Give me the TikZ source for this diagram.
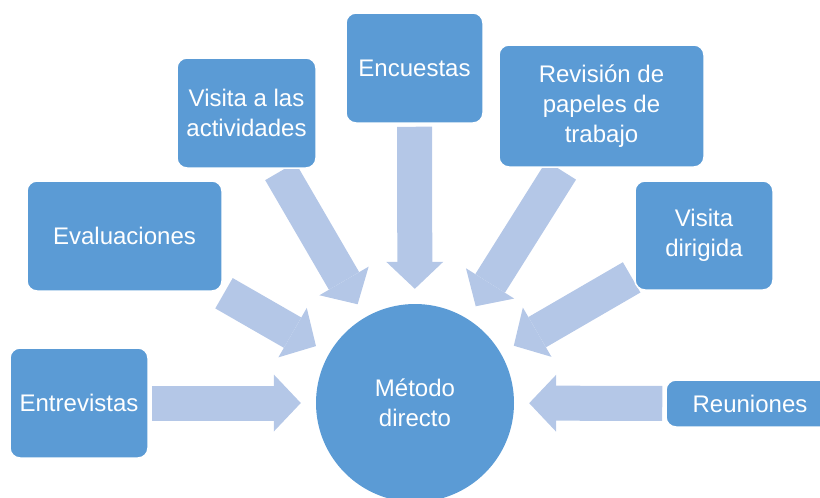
\documentclass[tikz,border=0pt]{standalone}
\usepackage{fontspec}
\setmainfont{Liberation Sans}
\usepackage{tikz}
\usetikzlibrary{arrows.meta,backgrounds}
\usepackage{xcolor}
\definecolor{cajaazul}{HTML}{5B9BD5}
\definecolor{flechaazul}{HTML}{B4C7E7}
\newcommand{\prcaja}[5]{\node[caja,minimum width=#3,minimum height=#4] (#1) at (#2) {#5};}
\newcommand{\prflecha}[1]{\begin{pgfonlayer}{background}\draw[flecha] (#1) -- (centro);\end{pgfonlayer}}

\begin{document}
\begin{tikzpicture}[x=1pt,y=-1pt,
    caja/.style={rectangle,rounded corners=10pt,fill=cajaazul,draw=white,line width=1.5pt,
      inner sep=0pt,align=center,text=white,font=\fontsize{24}{30}\selectfont},
    flecha/.style={line width=35pt,draw=flechaazul,shorten <=3pt,shorten >=15pt,
      -{Triangle[width=57pt,length=27pt,line width=0pt]}}]

    \clip (0,0) rectangle (820,498);
    \useasboundingbox (0,0) rectangle (820,498);

    \node[circle,minimum size=198pt,inner sep=0pt,fill=cajaazul,text=white,align=center,
      font=\fontsize{24}{30}\selectfont] (centro) at (415,403) {Método\\directo};

    \prcaja{entrevistas}{79,403}{138pt}{110pt}{Entrevistas}
    \prcaja{evaluaciones}{124.5,236}{195pt}{110pt}{Evaluaciones}
    \prcaja{visita}{246.5,113}{139pt}{110pt}{Visita a las\\actividades}
    \prcaja{encuestas}{414.5,68}{137pt}{110pt}{Encuestas}
    \prcaja{revision}{601.5,106}{205pt}{122pt}{Revisión de\\papeles de\\trabajo}
    \prcaja{dirigida}{704,235.5}{138pt}{109pt}{Visita\\dirigida}
    \prcaja{reuniones}{750,403.5}{168pt}{47pt}{Reuniones}

    \prflecha{entrevistas}
    \prflecha{evaluaciones}
    \prflecha{visita}
    \prflecha{encuestas}
    \prflecha{revision}
    \prflecha{dirigida}
    \prflecha{reuniones}
\end{tikzpicture}
\end{document}
